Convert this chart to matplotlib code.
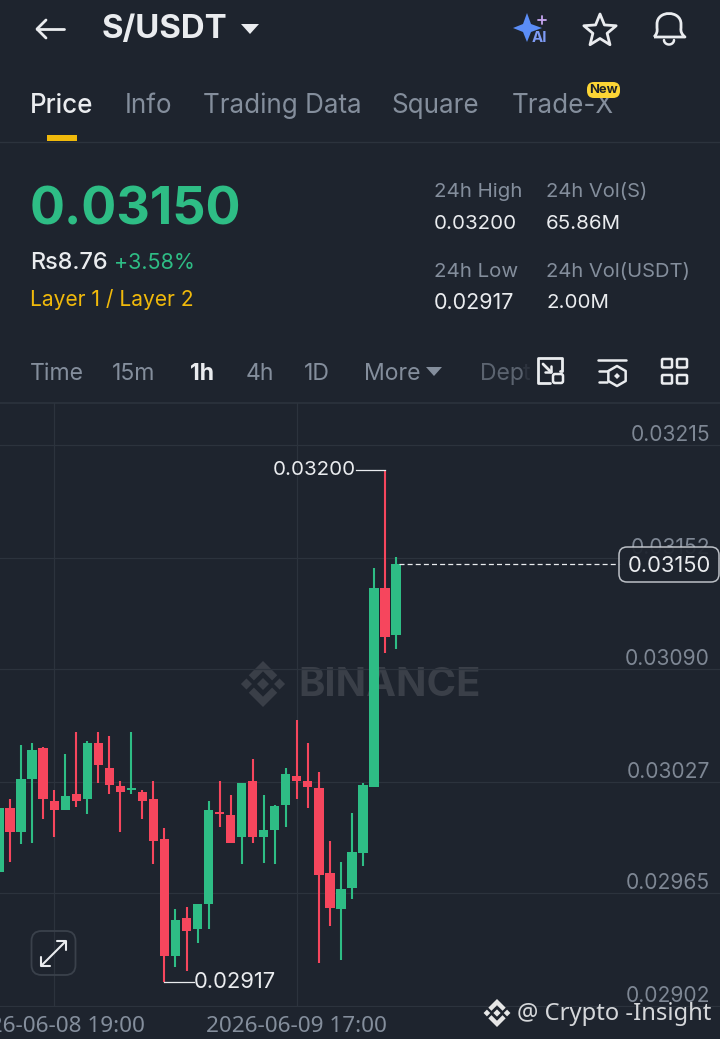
import numpy as np
import matplotlib
matplotlib.use("Agg")
import matplotlib.pyplot as plt
from matplotlib.patches import Polygon, Rectangle, FancyBboxPatch, PathPatch
from matplotlib.path import Path

# candles
opens = [0.029767, 0.030124, 0.029991, 0.030286, 0.030459, 0.030164, 0.030113, 0.030203, 0.030175, 0.030487,
         0.030348, 0.030247, 0.030225, 0.030214, 0.030175, 0.029952, 0.029299, 0.029511, 0.029449, 0.029589,
         0.030102, 0.030085, 0.029963, 0.030275, 0.029963, 0.030002, 0.030141, 0.030303, 0.030275, 0.030236,
         0.029762, 0.029561, 0.029678, 0.029873, 0.030242, 0.031352, 0.031090]
highs = [0.030124, 0.030175, 0.030476, 0.030487, 0.030465, 0.030225, 0.030426, 0.030549, 0.030498, 0.030549,
         0.030526, 0.030275, 0.030549, 0.030225, 0.030275, 0.030013, 0.029561, 0.029572, 0.029589, 0.030164,
         0.030275, 0.030197, 0.030264, 0.030398, 0.030197, 0.030141, 0.030348, 0.030616, 0.030487, 0.030325,
         0.029940, 0.029823, 0.030097, 0.030264, 0.031464, 0.032010, 0.031525]
lows = [0.029767, 0.029823, 0.029924, 0.029929, 0.030063, 0.029963, 0.030113, 0.030130, 0.030091, 0.030264,
        0.030203, 0.029991, 0.030203, 0.030063, 0.029812, 0.029154, 0.029237, 0.029215, 0.029371, 0.029449,
        0.030018, 0.029929, 0.029812, 0.029929, 0.029818, 0.029812, 0.030018, 0.030175, 0.030124, 0.029260,
        0.029466, 0.029276, 0.029617, 0.029801, 0.030242, 0.030989, 0.031012]
closes = [0.030124, 0.029991, 0.030286, 0.030448, 0.030175, 0.030113, 0.030191, 0.030164, 0.030487, 0.030364,
          0.030253, 0.030214, 0.030236, 0.030164, 0.029940, 0.029299, 0.029500, 0.029438, 0.029589, 0.030113,
          0.030091, 0.029929, 0.030264, 0.029963, 0.030002, 0.030136, 0.030314, 0.030275, 0.030242, 0.029751,
          0.029566, 0.029673, 0.029879, 0.030253, 0.031352, 0.031079, 0.031486]

price_ticks = [0.03215, 0.03152, 0.03090, 0.03027, 0.02965, 0.02902]
time_idx = [5, 27]
time_labels = ["2026-06-08 19:00", "2026-06-09 17:00"]
high_label = "0.03200"
low_label = "0.02917"
last_label = "0.03150"

tabs = ["Price", "Info", "Trading Data", "Square", "Trade-X"]
periods = ["Time", "15m", "1h", "4h", "1D", "More"]

BG = "#1E242E"
GRID = "#2C333D"
GREEN = "#2EBD85"
RED = "#F6465D"
GRAY = "#848E9C"
WHITE = "#EAECEF"
YELLOW = "#F0B90B"
WATER = "#3A3F48"

plt.rcParams["font.family"] = ["Inter", "DejaVu Sans"]


def fs(px):
    return px * 0.72


fig = plt.figure(figsize=(7.2, 10.39), dpi=100, facecolor=BG)

# watermark goes under the candles
back = fig.add_axes([0, 0, 1, 1], facecolor=BG, zorder=0)
back.set_xlim(0, 720)
back.set_ylim(1039, 0)
back.axis("off")

# chart, price scale taken from the grid lines
ax = fig.add_axes([0, 1 - 1007 / 1039, 1, 604 / 1039], facecolor="none", zorder=1)
step = 11.03
ax.set_xlim(1 / step, 721 / step)
ax.set_ylim(0.029014, 0.032384)
for s in ax.spines.values():
    s.set_visible(False)
ax.set_yticks(price_ticks)
ax.set_xticks(time_idx)
ax.set_yticklabels([])
ax.set_xticklabels([])
ax.tick_params(length=0)
ax.grid(True, color=GRID, lw=0.9)
ax.set_axisbelow(True)

x = np.arange(len(opens))
o = np.array(opens)
h = np.array(highs)
l = np.array(lows)
c = np.array(closes)
cols = [GREEN if c[i] >= o[i] else RED for i in x]
ax.vlines(x, l, h, colors=cols, lw=1.5, zorder=2)
ax.bar(x, np.maximum(np.abs(c - o), 0.00001), bottom=np.minimum(o, c), width=0.84, color=cols, zorder=3)

# price labels sit just above their grid line
for p in price_ticks:
    ax.annotate("%.5f" % p, (1, p), xycoords=ax.get_yaxis_transform(), xytext=(fs(-10), fs(0)),
                textcoords="offset points", ha="right", va="bottom", color="#7E8794", fontsize=fs(21))

# high / low markers
hi = int(np.argmax(h))
lo = int(np.argmin(l))
ax.plot([hi - 2.6, hi], [h[hi], h[hi]], color=WHITE, lw=0.9, zorder=4)
ax.text(hi - 2.65, h[hi], high_label, ha="right", va="center", color=WHITE, fontsize=fs(20.5), zorder=5)
ax.plot([lo, lo + 2.7], [l[lo], l[lo]], color=WHITE, lw=0.9, zorder=4)
ax.text(lo + 2.7, l[lo], low_label, ha="left", va="center", color=WHITE, fontsize=fs(22), zorder=5)

# last price line
ax.plot([x[-1] + 0.3, 56.3], [c[-1], c[-1]], color=WHITE, lw=0.9, dashes=(4, 2.5), zorder=4)

# everything else in screen pixels
ui = fig.add_axes([0, 0, 1, 1], facecolor="none", zorder=2)
ui.set_xlim(0, 720)
ui.set_ylim(1039, 0)
ui.axis("off")


def label(px, py, s, size, color=WHITE, weight="normal", ha="left", alpha=1):
    ui.text(px, py + 2, s, fontsize=fs(size), color=color, fontweight=weight, ha=ha, va="center", alpha=alpha)


def logo(target, cx, cy, r, color, z=1):
    # diamond mark made of a centre, two side dots and two chevrons
    def dia(a, b, q):
        target.add_patch(Polygon([(a, b - q), (a + q, b), (a, b + q), (a - q, b)], color=color, lw=0, zorder=z))
    dia(cx, cy, r * 0.26)
    dia(cx - r * 0.72, cy, r * 0.24)
    dia(cx + r * 0.72, cy, r * 0.24)
    t = r * 0.32
    for sgn in (-1, 1):
        target.add_patch(Polygon([(cx, cy + sgn * r), (cx + r * 0.62, cy + sgn * (r - r * 0.62)),
                                  (cx + r * 0.62 - t * 0.7, cy + sgn * (r - r * 0.62 - t * 0.7)),
                                  (cx, cy + sgn * (r - t * 1.4)),
                                  (cx - r * 0.62 + t * 0.7, cy + sgn * (r - r * 0.62 - t * 0.7)),
                                  (cx - r * 0.62, cy + sgn * (r - r * 0.62))], color=color, lw=0, zorder=z))


def seg(pts, color=WHITE, lw=1.8):
    a = np.array(pts)
    ui.plot(a[:, 0], a[:, 1], color=color, lw=lw, solid_capstyle="round", solid_joinstyle="round")


def box(x0, y0, w, h2, color=WHITE, lw=1.8, rad=2, fill="none", z=3, alpha=1):
    ui.add_patch(FancyBboxPatch((x0, y0), w, h2, boxstyle="round,pad=0,rounding_size=%s" % rad, ec=color, fc=fill,
                                lw=lw, zorder=z, alpha=alpha))


# header
seg([(37, 29), (64, 29)], lw=2)
seg([(46, 20), (37, 29), (46, 38)], lw=2)
label(102, 28, "S/USDT", 33, weight="bold")
ui.add_patch(Polygon([(241, 24), (259, 24), (250, 34)], color=WHITE, lw=0))

# AI sparkle
sx, sy = 527, 28
ui.add_patch(Polygon([(sx, sy - 15), (sx + 4, sy - 4), (sx + 15, sy), (sx + 4, sy + 4), (sx, sy + 14), (sx - 4, sy + 4),
                      (sx - 14, sy), (sx - 4, sy - 4)], color="#5B8DF6", lw=0))
seg([(538, 20), (546, 20)], color="#C7A6F0", lw=1.3)
seg([(542, 16), (542, 24)], color="#C7A6F0", lw=1.3)
ui.text(539, 38, "AI", fontsize=fs(15), color="#7E9BF5", fontweight="bold", ha="center", va="center")

# star
ang = np.deg2rad(np.arange(-90, 270, 36))
rad = np.where(np.arange(10) % 2 == 0, 17, 7.5)
ui.add_patch(Polygon(np.c_[600 + rad * np.cos(ang), 31 + rad * np.sin(ang)], fc="none", ec=WHITE, lw=2, joinstyle="round"))

# bell
bell = Path([(654, 37), (658, 33), (657, 28), (657, 24), (657, 10), (681, 10), (681, 24), (681, 28), (680, 33), (685, 37), (654, 37)],
            [Path.MOVETO, Path.CURVE3, Path.CURVE3, Path.LINETO, Path.CURVE4, Path.CURVE4, Path.CURVE4, Path.LINETO, Path.CURVE3, Path.CURVE3, Path.LINETO])
ui.add_patch(PathPatch(bell, fc="none", ec=WHITE, lw=2, joinstyle="round"))
ang = np.linspace(0, np.pi, 20)
seg(np.c_[669 + 5 * np.cos(ang), 40 + 4.5 * np.sin(ang)], lw=1.8)

# tabs
tab_x = [30, 125, 203, 391, 512]
for i in range(len(tabs)):
    label(tab_x[i], 104, tabs[i], 26, color=WHITE if i == 0 else GRAY, weight="medium" if i == 0 else "normal")
ui.add_patch(Rectangle((47, 135), 30, 6, color=YELLOW, lw=0))
box(587, 82, 33, 16, color="#FCD535", fill="#FCD535", rad=7, lw=0, z=4)
ui.text(603.5, 90, "New", fontsize=fs(13), color="#1E2329", fontweight="bold", ha="center", va="center", zorder=5)
ui.plot([0, 720], [141.5, 141.5], color=GRID, lw=1)

# price block
label(30, 209, last_label, 52, color=GREEN, weight="bold")
label(30, 261, "Rs8.76", 23.5, weight="medium")
label(114, 261, "+3.58%", 21.5, color=GREEN)
label(30, 297, "Layer 1 / Layer 2", 21, color=YELLOW)
label(434, 190, "24h High", 20.5, color=GRAY)
label(434, 222, "0.03200", 20.5)
label(546, 190, "24h Vol(S)", 20.2, color=GRAY)
label(546, 222, "65.86M", 20.5)
label(434, 270, "24h Low", 20.5, color=GRAY)
label(434, 301, "0.02917", 21.5)
label(546, 270, "24h Vol(USDT)", 20.2, color=GRAY)
label(546, 301, "2.00M", 20.5)

# period row
per_x = [30, 112, 190, 246, 304, 364]
for i in range(len(periods)):
    label(per_x[i], 372, periods[i], 23, color=WHITE if periods[i] == "1h" else GRAY, weight="bold" if periods[i] == "1h" else "normal")
ui.add_patch(Polygon([(426, 367), (442, 367), (434, 376)], color=GRAY, lw=0))
label(480, 372, "Dep", 23, color=GRAY, alpha=0.6)
label(523, 372, "t", 23, color=GRAY, alpha=0.15)
ui.plot([0, 720], [403, 403], color=GRID, lw=1.2)

# toolbar icons
seg([(560, 371), (562, 371), (562, 358), (538, 358), (538, 383), (550, 383)], lw=2)
box(553, 374, 10, 9, lw=1.8)
seg([(543, 364), (551, 372)], lw=2)
seg([(551, 366), (551, 372), (545, 372)], lw=1.8)
seg([(598, 360), (626, 360)], lw=1.8)
seg([(599, 371), (607, 371)], lw=1.8)
seg([(599, 382), (607, 382)], lw=1.8)
ang = np.deg2rad(np.arange(30, 390, 60))
ui.add_patch(Polygon(np.c_[617 + 10 * np.cos(ang), 376 + 10 * np.sin(ang)], fc="none", ec=WHITE, lw=1.8, joinstyle="round"))
ui.add_patch(Polygon([(617, 373), (620, 376), (617, 379), (614, 376)], color=WHITE, lw=0))
for bx in (662, 677):
    for by in (359, 375):
        box(bx, by, 10, 8.5, rad=1, lw=1.8)

# last price box
box(619, 547, 100, 35, color="#C9CDD3", fill=BG, rad=8, lw=1.1, z=6, alpha=0.92)
ui.text(669, 566, last_label, fontsize=fs(22), color=WHITE, ha="center", va="center", zorder=7)

# watermark
logo(back, 263, 684, 23, WATER)
back.text(298, 685, "BINANCE", fontsize=fs(40), fontweight="bold", color=WATER, ha="left", va="center")

# expand button
box(31.5, 931, 44, 44, color="#3A414B", rad=10, lw=1.3)
seg([(42, 965), (65, 942)], lw=1.5)
seg([(57, 941), (66, 941), (66, 950)], lw=1.5)
seg([(41, 957), (41, 966), (50, 966)], lw=1.5)

# time axis, first label runs off the left edge as on the phone screen
for i in range(len(time_idx)):
    px = time_idx[i] * step - 1
    ui.text(px, 1027, time_labels[i], fontsize=fs(22.5), color=GRAY, ha="center", va="center", family="Noto Sans")

# source mark
logo(ui, 497, 1013, 14, "#E6E6E6", z=8)
ui.text(517, 1014, "@ Crypto -Insight", fontsize=fs(23.8), color="#D5D7DA", ha="left", va="center", family="Noto Sans", zorder=8)

fig.savefig("out.png", dpi=100, facecolor=BG)
